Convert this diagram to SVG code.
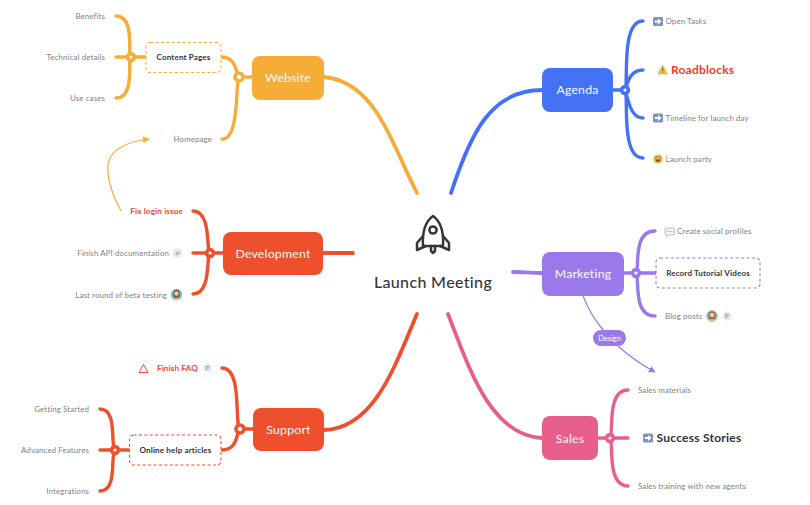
<svg xmlns="http://www.w3.org/2000/svg" width="810" height="505" viewBox="0 0 810 505">
<style>
text{font-family:Lato,"Noto Sans","Liberation Sans",sans-serif}
.n{font-size:12.3px;fill:#fff;text-anchor:middle;letter-spacing:.2px;opacity:.97}
.t{font-size:7.9px;fill:#808287;letter-spacing:.12px}
.e{text-anchor:end}
.b{font-size:8.05px;font-weight:700;fill:#33363b;text-anchor:middle;letter-spacing:.15px}
.r{font-size:8.2px;font-weight:700;fill:#ee4a35}
.c{fill:none;stroke-width:3.4;stroke-linecap:round}
.m{stroke-width:3.8}
.h{fill:#fff;stroke-width:3.6}
.box{fill:#fff;stroke-width:1.1;stroke-dasharray:3 2.4}
.y{stroke:#f6ad38}.o{stroke:#ee4f2d}.bl{stroke:#4472f5}.p{stroke:#9a7aea}.k{stroke:#e85f8e}
.bi{fill:#e7e8ea}
</style>
<defs>
<marker id="ay" markerWidth="8" markerHeight="8" refX="6" refY="3.5" orient="auto" markerUnits="userSpaceOnUse"><path d="M0 0L6.5 3.5L0 7Z" fill="#f6ad38"/></marker>
<marker id="ap" markerWidth="8" markerHeight="8" refX="6" refY="3.5" orient="auto" markerUnits="userSpaceOnUse"><path d="M0 0L6.5 3.5L0 7Z" fill="#9a7aea"/></marker>
<g id="arrowIcon"><rect width="10" height="9" rx="1.5" fill="#7b96b8"/><path d="M1.8 3.4H5V1.6L8.6 4.5L5 7.4V5.6H1.8Z" fill="#fff"/></g>
<g id="noteIcon"><circle r="4.6" fill="#e9ebec"/><path d="M-2 -1.6H1.8M-2 0H1.8M-2 1.6H0" stroke="#8b8e92" stroke-width=".8"/></g>
</defs>
<rect width="810" height="505" fill="#fff"/>
<g id="connectors">
<path class="c m y" d="M324 77C375 82 390 140 417 193"/>
<path class="c m bl" d="M542 90C490 90 470 135 451 193"/>
<path class="c m o" d="M323 253H353"/>
<path class="c m p" d="M542 273C530 273 522 272 513 272"/>
<path class="c m o" d="M324 430C375 428 395 365 417 314"/>
<path class="c m k" d="M542 438C490 436 468 365 448 314"/>
<path class="c y" d="M116 16C136 16 127 57 131 57C127 57 136 98 116 98M116 57H145M222 57C236 58 235 70 239 77C235 84 240 139 222 139M239 77H252"/>
<path class="c o" d="M193 211C212 211 206 253 210 253C206 253 212 294 193 294M193 253H223M222 368C243 368 234 425 240 429C236 433 238 450 222 450M240 429H253M100 409C118 409 110 446 115 450C110 454 118 491 100 491M100 450H129"/>
<path class="c bl" d="M643 21C620 21 629 86 625 90C629 94 620 158 643 158M643 70C630 70 628 82 625 90C628 98 630 118 643 118M613 90H625"/>
<path class="c p" d="M655 231C632 231 640 269 636 273C640 277 632 316 655 316M624 273H656"/>
<path class="c k" d="M628 390C606 390 614 434 610 438C614 442 606 486 628 486M598 438H628"/>
<path fill="none" stroke="#f6ad38" stroke-width="1.2" marker-end="url(#ay)" d="M121 211C110 190 107 175 108 165C110 150 125 142 149 139"/>
<path fill="none" stroke="#9a7aea" stroke-width="1.2" d="M583 296C589 311 596 322 604 331"/>
<path fill="none" stroke="#9a7aea" stroke-width="1.2" marker-end="url(#ap)" d="M618 346C629 356 642 365 655 372"/>
<g><circle class="h y" cx="131" cy="57" r="3.4"/><circle class="h y" cx="239" cy="77" r="4"/><circle class="h o" cx="210" cy="253" r="3.4"/><circle class="h o" cx="240" cy="429" r="4"/><circle class="h o" cx="115" cy="450" r="3.4"/><circle class="h bl" cx="625" cy="90" r="3.4"/><circle class="h p" cx="636" cy="273" r="3.4"/><circle class="h k" cx="610" cy="438" r="3.4"/></g>
</g>
<g id="center">
<g fill="none" stroke="#33373c" stroke-width="2.5" stroke-linejoin="round" stroke-linecap="round">
<path d="M433 216C426 221 422 230 423 246H443C444 230 440 221 433 216Z"/>
<circle cx="433" cy="230" r="3.6"/>
<path d="M423 236L417 243V250L426 246M443 236L449 243V250L440 246"/>
<path d="M431 246V251L433 253L435 251V246"/>
</g>
<text x="433" y="288" font-size="16" fill="#33373c" text-anchor="middle" letter-spacing=".35" style="font-weight:500">Launch Meeting</text>
</g>
<g id="website"><rect x="252" y="56" width="72" height="44" rx="8" fill="#f6ad38"/><text class="n" x="288" y="82">Website</text></g>
<g id="agenda"><rect x="542" y="68" width="71" height="44" rx="8" fill="#4472f5"/><text class="n" x="577.500" y="94">Agenda</text></g>
<g id="development"><rect x="223" y="232" width="100" height="43" rx="8" fill="#ee4f2d"/><text class="n" x="273" y="258">Development</text></g>
<g id="marketing"><rect x="542" y="252" width="82" height="44" rx="8" fill="#9a7aea"/><text class="n" x="583" y="278">Marketing</text></g>
<g id="support"><rect x="253" y="408" width="71" height="43" rx="8" fill="#ee4f2d"/><text class="n" x="288.500" y="434">Support</text></g>
<g id="sales"><rect x="542" y="416" width="56" height="44" rx="8" fill="#e85f8e"/><text class="n" x="570" y="442.500">Sales</text></g>
<g id="design"><rect x="593" y="330" width="33" height="16" rx="8" fill="#9a7aea"/><text x="609.500" y="341" font-size="7.500" fill="#fff" text-anchor="middle">Design</text></g>
<g id="content-pages"><rect class="box y" x="146" y="42.500" width="75" height="30" rx="4"/><text class="b" x="183.500" y="60">Content Pages</text></g>
<g id="online-help"><rect class="box o" x="129.500" y="435" width="91.500" height="30" rx="4"/><text class="b" x="175.500" y="453">Online help articles</text></g>
<g id="record-videos"><rect class="box p" x="656" y="258" width="104" height="30" rx="4"/><text class="b" x="708" y="276">Record Tutorial Videos</text></g>
<g id="benefits"><text class="t e" x="105" y="19">Benefits</text></g>
<g id="technical"><text class="t e" x="105" y="60">Technical details</text></g>
<g id="use-cases"><text class="t e" x="105" y="101">Use cases</text></g>
<g id="homepage"><text class="t e" x="212" y="142">Homepage</text></g>
<g id="fix-login"><text class="t r e" x="183" y="214">Fix login issue</text></g>
<g id="finish-api"><text class="t e" x="169" y="255.500">Finish API documentation</text><circle class="bi" cx="177.500" cy="253" r="4.800"/><path d="M175.500 254L178.500 251.500M176.500 255L179.500 252.500" stroke="#85888c" stroke-width=".9"/></g>
<g id="beta"><text class="t e" x="167" y="297.500">Last round of beta testing</text><circle cx="176.500" cy="294.500" r="5.800" fill="#7cc6bf"/><ellipse cx="176.500" cy="294" rx="3.400" ry="4.200" fill="#7a5a46"/><circle cx="176.500" cy="293.500" r="2.200" fill="#f0c8ac"/><path d="M173 300C174 297 179 297 180 300Z" fill="#e8b89c"/></g>
<g id="finish-faq"><path d="M143.500 364.500L148 372.500H139Z" fill="none" stroke="#ee4f2d" stroke-width="1"/><text class="t r e" x="198" y="371">Finish FAQ</text><use href="#noteIcon" x="207.500" y="368"/></g>
<g id="getting-started"><text class="t e" x="89" y="412">Getting Started</text></g>
<g id="advanced"><text class="t e" x="89" y="453">Advanced Features</text></g>
<g id="integrations"><text class="t e" x="89" y="494">Integrations</text></g>
<g id="open-tasks"><use href="#arrowIcon" x="653" y="17"/><text class="t" x="665.500" y="24">Open Tasks</text></g>
<g id="roadblocks"><path d="M662.500 65L667.500 74H658Z" fill="#f2c23c" stroke="#e2a92c" stroke-width=".6"/><path d="M662.700 68V71.500M662.700 72.300V73" stroke="#4a3a1c" stroke-width=".8"/><text x="671" y="73.500" font-size="12" font-weight="700" fill="#f23b2c" letter-spacing=".2">Roadblocks</text></g>
<g id="timeline"><use href="#arrowIcon" x="653" y="113.500"/><text class="t" x="665.500" y="120.500">Timeline for launch day</text></g>
<g id="launch-party"><circle cx="658" cy="159" r="4.600" fill="#eeb145"/><path d="M655.500 159.500C656 162.500 660 162.500 660.500 159.500Z" fill="#7a4a20"/><path d="M656.200 156.500V157.800M659.800 156.500V157.800" stroke="#6b4520" stroke-width=".9"/><text class="t" x="665.500" y="161.500">Launch party</text></g>
<g id="social"><path d="M666 228H673Q674.500 228 674.500 229.500V233.500Q674.500 235 673 235H669L666.500 236.500V235Q665 235 665 233.500V229.500Q665 228 666 228Z" fill="#f2f3f3" stroke="#a3a6a8" stroke-width=".7"/><path d="M667.500 231.500H672.500" stroke="#8b8e92" stroke-width=".9" stroke-dasharray="1 1"/><text class="t" x="677" y="234">Create social profiles</text></g>
<g id="blog"><text class="t" x="665" y="319">Blog posts</text><circle cx="712" cy="316" r="5.800" fill="#7cc6bf"/><ellipse cx="712" cy="315.500" rx="3.500" ry="4.300" fill="#b0623a"/><circle cx="712" cy="315" r="2.200" fill="#f3cdb2"/><path d="M708.500 321.500C709.500 318.500 714.500 318.500 715.500 321.500Z" fill="#e9bc9f"/><use href="#noteIcon" x="727" y="316"/></g>
<g id="sales-materials"><text class="t" x="638" y="392.500">Sales materials</text></g>
<g id="success"><use href="#arrowIcon" x="643" y="433.500"/><text x="656.500" y="441.500" font-size="12" font-weight="700" fill="#2f3237" letter-spacing=".25">Success Stories</text></g>
<g id="sales-training"><text class="t" x="638" y="489">Sales training with new agents</text></g>
</svg>
